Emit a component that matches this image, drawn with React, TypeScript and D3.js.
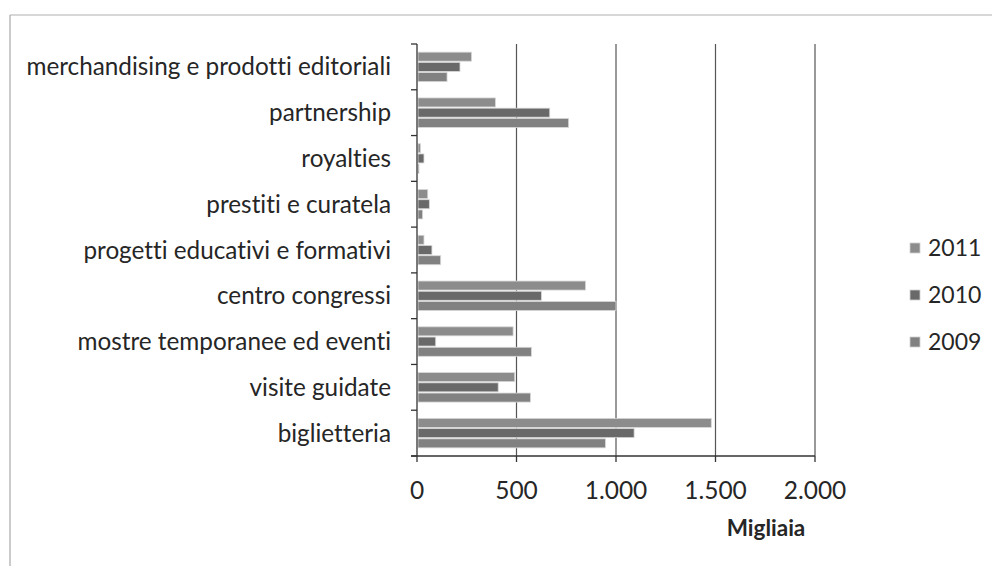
import React from 'react';
import * as d3 from 'd3';

// categories top -> bottom, values in thousands (Migliaia)
const categories = [
	'merchandising e prodotti editoriali',
	'partnership',
	'royalties',
	'prestiti e curatela',
	'progetti educativi e formativi',
	'centro congressi',
	'mostre temporanee ed eventi',
	'visite guidate',
	'biglietteria',
];
const years = ['2011', '2010', '2009'];
const values2011 = [274, 394, 18, 54, 35, 847, 483, 491, 1479];
const values2010 = [216, 667, 35, 62, 75, 625, 94, 408, 1091];
const values2009 = [151, 762, 10, 28, 119, 1000, 575, 570, 947];
const xTicks = [0, 500, 1000, 1500, 2000];

const seriesColors: Record<string, string> = { '2011': '#8c8c8c', '2010': '#696969', '2009': '#818181' };
const FONT = 'Lato, "Open Sans", sans-serif';

const W = 992;
const H = 566;
const margin = { top: 44, left: 417, right: 177, bottom: 110 };

const App: React.FC = () => {
	const innerW = W - margin.left - margin.right;
	const innerH = H - margin.top - margin.bottom;

	const x = d3.scaleLinear().domain([0, 2000]).range([0, innerW]);
	const y = d3.scaleBand().domain(categories).range([0, innerH]).paddingInner(0.33).paddingOuter(0.165);
	const yInner = d3.scaleBand().domain(years).range([0, y.bandwidth()]);

	const table = categories.map((c, i) => ({
		cat: c,
		vals: { '2011': values2011[i], '2010': values2010[i], '2009': values2009[i] } as Record<string, number>,
	}));

	const step = y.step();
	const fmt = (v: number) => d3.format(',')(v).replace(/,/g, '.');

	return (
		<svg
			width={W}
			height={H}
			style={{ position: 'fixed', left: 0, top: 0, background: '#fff', fontVariantLigatures: 'none' }}
			fontFamily={FONT}
		>
			{/* chart border */}
			<line x1={10} x2={W} y1={15} y2={15} stroke="#b0b0b0" strokeWidth={1.2} />
			<line x1={10} x2={10} y1={15} y2={H} stroke="#a8a8a8" strokeWidth={1.2} />

			<g transform={`translate(${margin.left},${margin.top})`}>
				{/* grid */}
				{xTicks.slice(1).map((t) => (
					<line key={t} x1={x(t)} x2={x(t)} y1={0} y2={innerH} stroke="#555" strokeWidth={1.2} />
				))}

				{/* bars */}
				{table.map((d) => (
					<g key={d.cat} transform={`translate(0,${y(d.cat)})`}>
						{years.map((yr) => (
							<rect
								key={yr}
								x={1}
								y={yInner(yr)! + 0.6}
								width={Math.max(0, x(d.vals[yr]) - 1)}
								height={yInner.bandwidth() - 1.2}
								fill={seriesColors[yr]}
								stroke="#d8d8d8"
								strokeWidth={0.8}
							/>
						))}
					</g>
				))}

				{/* y axis */}
				<line x1={0} x2={0} y1={0} y2={innerH} stroke="#333" strokeWidth={1.3} />
				{d3.range(categories.length + 1).map((k) => (
					<line key={k} x1={-6} x2={0} y1={k * step} y2={k * step} stroke="#333" strokeWidth={1.3} />
				))}
				{categories.map((c) => (
					<text
						key={c}
						x={-26}
						y={y(c)! + y.bandwidth() / 2}
						dy="0.35em"
						textAnchor="end"
						fontSize={24.3}
						fill="#262626"
					>
						{c}
					</text>
				))}

				{/* x axis */}
				<line x1={-6} x2={innerW} y1={innerH} y2={innerH} stroke="#333" strokeWidth={1.3} />
				{xTicks.map((t) => (
					<g key={t} transform={`translate(${x(t)},${innerH})`}>
						<line y1={0} y2={6} stroke="#333" strokeWidth={1.3} />
						<text y={43} textAnchor="middle" fontSize={24.5} fill="#262626">
							{fmt(t)}
						</text>
					</g>
				))}
				<text x={766 - margin.left} y={innerH + 80} textAnchor="middle" fontSize={22.5} fontWeight="bold" fill="#262626">
					Migliaia
				</text>
			</g>

			{/* legend */}
			{years.map((yr, i) => (
				<g key={yr} transform={`translate(910,${248 + i * 47})`}>
					<rect x={0} y={-5} width={10} height={10} fill={seriesColors[yr]} stroke="#cfcfcf" strokeWidth={0.8} />
					<text x={18} y={0} dy="0.35em" fontSize={23} fill="#262626">
						{yr}
					</text>
				</g>
			))}
		</svg>
	);
};

export default App;
